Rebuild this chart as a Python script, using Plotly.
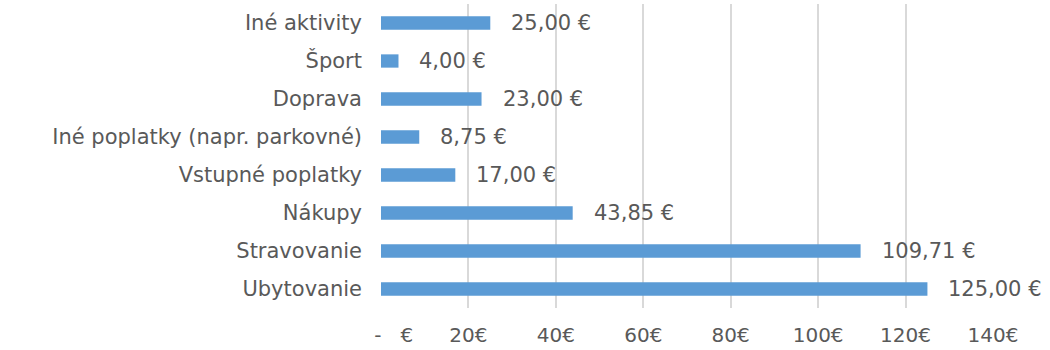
import plotly.graph_objects as go

# Spending per category (EUR), listed bottom to top
categories = ["Ubytovanie", "Stravovanie", "Nákupy", "Vstupné poplatky",
              "Iné poplatky (napr. parkovné)", "Doprava", "Šport", "Iné aktivity"]
values = [125.00, 109.71, 43.85, 17.00, 8.75, 23.00, 4.00, 25.00]
value_labels = ["125,00 €", "109,71 €", "43,85 €", "17,00 €",
                "8,75 €", "23,00 €", "4,00 €", "25,00 €"]
tick_values = [0, 20, 40, 60, 80, 100, 120, 140]
tick_labels = ["\u00a0\u00a0\u00a0\u00a0-\u00a0\u00a0\u00a0€", "20€", "40€", "60€",
               "80€", "100€", "120€", "140€"]

FONT = "DejaVu Sans"
TEXT_COLOR = "#595959"

fig = go.Figure(go.Bar(
    x=values, y=categories, orientation="h",
    marker=dict(color="#5B9BD5", line=dict(width=0)),
    hoverinfo="skip",
))

# value labels just to the right of each bar
for v, c, t in zip(values, categories, value_labels):
    fig.add_annotation(x=v, y=c, text=t, showarrow=False, xanchor="left",
                       yanchor="middle", xshift=19,
                       font=dict(family=FONT, size=21, color=TEXT_COLOR))

fig.update_layout(
    width=1050, height=350,
    margin=dict(l=381, r=57, t=4, b=42),
    paper_bgcolor="white", plot_bgcolor="white",
    bargap=0.65, showlegend=False,
    font=dict(family=FONT, size=21, color=TEXT_COLOR),
)
fig.update_xaxes(range=[0, 140], tickvals=tick_values, ticktext=tick_labels,
                 showgrid=True, gridcolor="#D9D9D9", gridwidth=1.5,
                 zeroline=False, showline=False, ticks="",
                 ticklabelstandoff=13,
                 tickfont=dict(family=FONT, size=20, color=TEXT_COLOR))
fig.update_yaxes(showgrid=False, zeroline=False, showline=False, ticks="",
                 ticklabelstandoff=18,
                 tickfont=dict(family=FONT, size=21, color=TEXT_COLOR))

fig.write_html("out.html")
